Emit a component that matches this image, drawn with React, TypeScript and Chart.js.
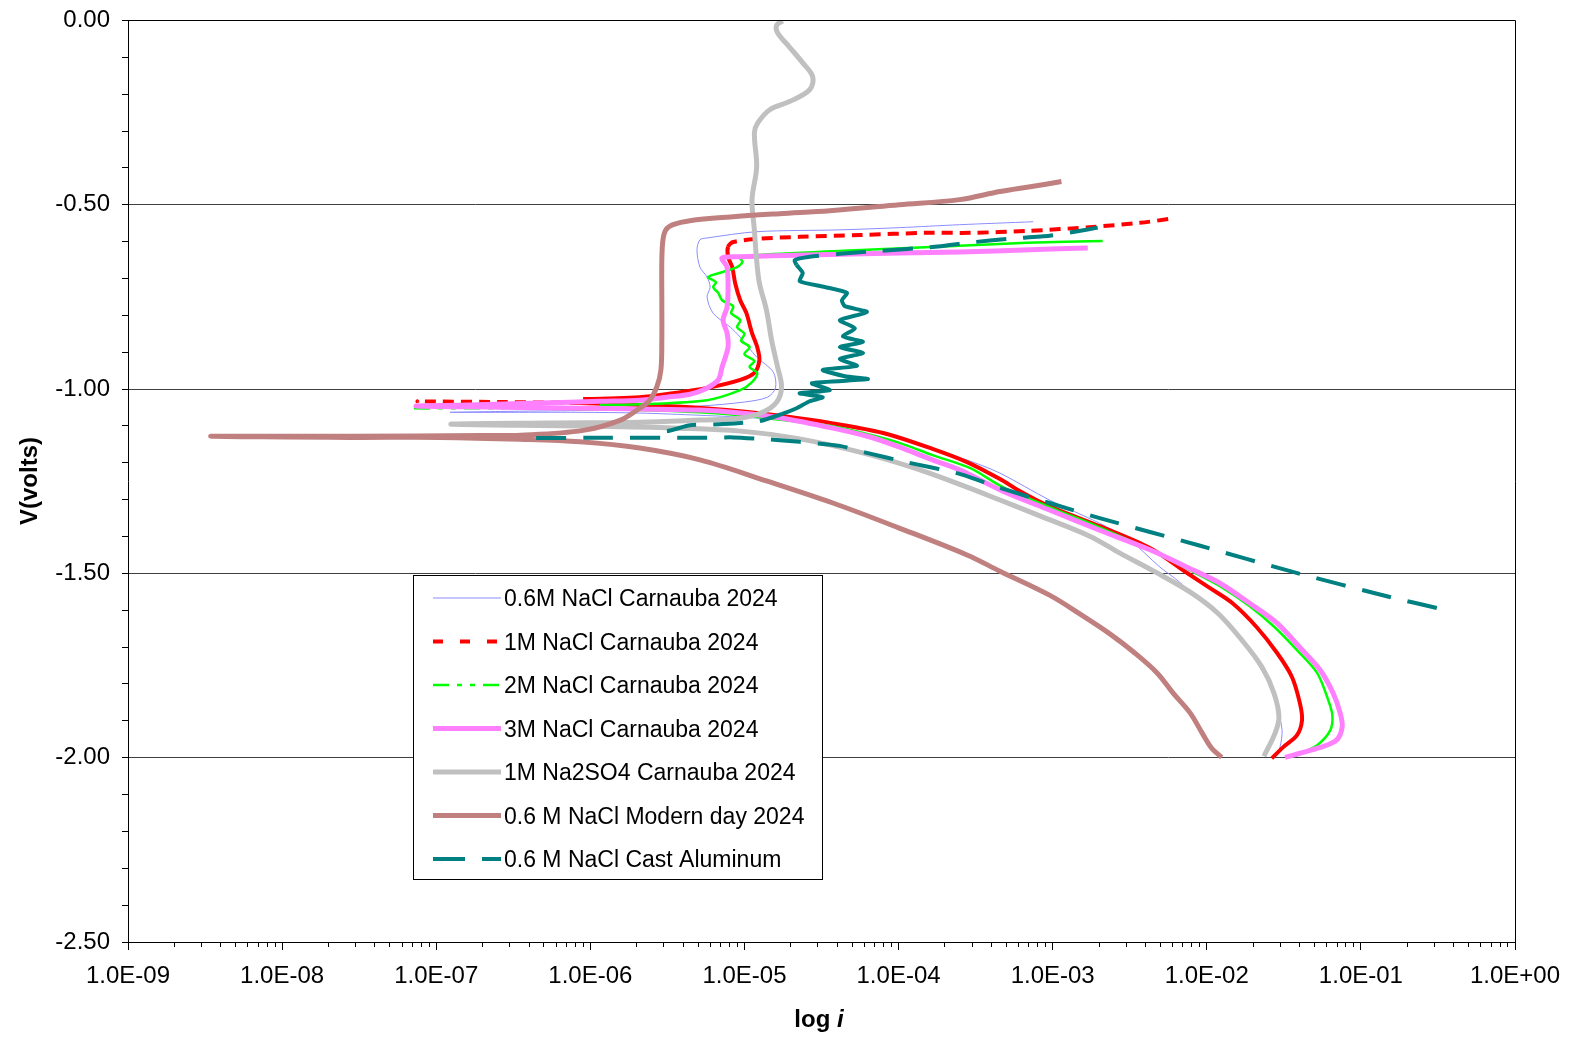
import React, { useEffect, useRef } from 'react';
import { Chart, registerables } from 'chart.js';

Chart.register(...registerables);

const FONT_FAMILY = '"Liberation Sans", Arial, Helvetica, sans-serif';

const seriesLabels = [
  '0.6M NaCl Carnauba 2024',
  '1M NaCl Carnauba 2024',
  '2M NaCl Carnauba 2024',
  '3M NaCl Carnauba 2024',
  '1M Na2SO4 Carnauba 2024',
  '0.6 M NaCl Modern day 2024',
  '0.6 M NaCl Cast Aluminum',
];

// current (A) and potential (V) for each scan: cathodic branch first, then anodic branch
const nacl06I = [
  2.77e-2, 2.98e-2, 3.08e-2, 2.86e-2, 2.46e-2, 1.82e-2, 1.34e-2, 9.07e-3, 6.41e-3, 4.97e-3,
  3.17e-3, 2.02e-3, 9.54e-4, 4.55e-4, 2.9e-4, 1.6e-4, 7.58e-5, 3.58e-5, 1.25e-5, 5.14e-6,
  2.09e-6, 8.57e-7, 2.59e-7, 1.23e-7,
  3.49e-7, 1.15e-6, 5.14e-6, 1.0e-5, 1.41e-5, 1.59e-5, 1.54e-5, 1.2e-5, 9.39e-6, 8.09e-6,
  6.26e-6, 5.72e-6, 5.99e-6, 5.72e-6, 5.14e-6, 4.92e-6, 5.14e-6, 5.72e-6, 1.2e-5, 4.16e-5,
  1.01e-4, 2.49e-4, 7.48e-4,
];
const nacl06V = [
  -1.998, -1.972, -1.926, -1.863, -1.789, -1.701, -1.635, -1.573, -1.518, -1.483,
  -1.41, -1.364, -1.301, -1.228, -1.195, -1.16, -1.119, -1.097, -1.079, -1.071,
  -1.065, -1.063, -1.063, -1.063,
  -1.06, -1.057, -1.046, -1.035, -1.022, -0.997, -0.954, -0.913, -0.859, -0.832,
  -0.794, -0.75, -0.723, -0.696, -0.669, -0.622, -0.595, -0.59, -0.573, -0.568,
  -0.562, -0.554, -0.546,
];

const nacl1I = [
  2.64e-2, 3.12e-2, 3.85e-2, 4.15e-2, 4.02e-2, 3.57e-2, 2.86e-2, 2.11e-2, 1.47e-2, 1.05e-2,
  7.46e-3, 4.28e-3, 2.02e-3, 9.54e-4, 6.14e-4, 4.55e-4, 2.78e-4, 1.66e-4, 7.94e-5, 3.75e-5,
  1.77e-5, 9.39e-6, 4.43e-6, 2.09e-6, 8.57e-7, 2.59e-7, 7.63e-8,
  8.98e-7, 2.09e-6, 3.44e-6, 5.72e-6, 9.39e-6, 1.16e-5, 1.25e-5, 1.21e-5, 1.12e-5, 1.03e-5,
  9.39e-6, 8.7e-6, 8.33e-6, 7.83e-6, 7.83e-6, 8.45e-6, 1.25e-5, 2.28e-5, 5.61e-5, 1.52e-4,
  2.9e-4, 6.82e-4, 1.82e-3, 3.68e-3, 5.79e-3,
];
const nacl1V = [
  -2.002, -1.972, -1.939, -1.898, -1.852, -1.781, -1.716, -1.646, -1.581, -1.54,
  -1.499, -1.431, -1.372, -1.318, -1.277, -1.244, -1.198, -1.162, -1.119, -1.093,
  -1.073, -1.06, -1.049, -1.043, -1.038, -1.035, -1.033,
  -1.027, -1.022, -1.011, -0.997, -0.975, -0.956, -0.921, -0.886, -0.848, -0.794,
  -0.759, -0.712, -0.669, -0.641, -0.614, -0.601, -0.592, -0.587, -0.582, -0.576,
  -0.576, -0.571, -0.56, -0.549, -0.538,
];

const nacl2I = [
  3.74e-2, 5.2e-2, 6.32e-2, 6.53e-2, 6.14e-2, 5.2e-2, 3.85e-2, 2.76e-2, 1.9e-2, 1.21e-2,
  8.15e-3, 4.28e-3, 2.02e-3, 9.54e-4, 4.76e-4, 2.9e-4, 1.66e-4, 1.01e-4, 6.53e-5, 3.75e-5,
  1.77e-5, 9.39e-6, 5.14e-6, 2.09e-6, 8.57e-7, 2.59e-7, 7.2e-8,
  1.15e-6, 2.09e-6, 5.72e-6,
  9.39e-6, 1.12e-5, 1.21e-5, 1.08e-5, 1.16e-5, 1.0e-5, 1.08e-5, 9.52e-6, 1.0e-5, 8.95e-6,
  9.39e-6, 8.2e-6, 8.45e-6, 7.16e-6, 6.76e-6, 6.26e-6, 6.54e-6, 5.81e-6, 7.27e-6, 8.95e-6,
  9.72e-6, 9.39e-6,
  1.25e-5, 6.23e-5, 2.49e-4, 6.82e-4, 2.11e-3,
];
const nacl2V = [
  -1.996, -1.966, -1.926, -1.885, -1.844, -1.77, -1.708, -1.646, -1.589, -1.534,
  -1.496, -1.436, -1.375, -1.32, -1.266, -1.214, -1.179, -1.146, -1.124, -1.101,
  -1.084, -1.071, -1.063, -1.057, -1.054, -1.052, -1.052,
  -1.043, -1.041, -1.03,
  -1.003, -0.981, -0.956, -0.94, -0.924, -0.905, -0.886, -0.869, -0.85, -0.832,
  -0.813, -0.794, -0.775, -0.759, -0.739, -0.723, -0.71, -0.696, -0.682, -0.669,
  -0.655, -0.644,
  -0.636, -0.622, -0.611, -0.603, -0.598,
];

const nacl3I = [
  3.22e-2, 4.02e-2, 5.44e-2, 6.92e-2, 7.56e-2, 7.34e-2, 6.61e-2, 5.44e-2, 4.02e-2, 2.86e-2,
  1.9e-2, 1.21e-2, 8.15e-3, 4.28e-3, 2.02e-3, 9.54e-4, 4.76e-4, 2.49e-4, 1.66e-4, 1.01e-4,
  6.53e-5, 3.75e-5, 1.77e-5, 9.39e-6, 5.14e-6, 2.09e-6, 8.57e-7, 2.59e-7, 7.41e-8,
  1.64e-7, 4.7e-7, 1.15e-6, 2.09e-6, 3.14e-6, 4.43e-6, 5.56e-6, 6.76e-6, 7.16e-6, 7.83e-6,
  7.71e-6, 7.27e-6, 7.71e-6, 7.83e-6, 7.71e-6, 7.16e-6, 9.39e-6, 2.53e-5, 1.01e-4, 2.49e-4,
  7.14e-4, 1.69e-3,
];
const nacl3V = [
  -1.999, -1.988, -1.972, -1.953, -1.917, -1.879, -1.825, -1.762, -1.701, -1.635,
  -1.581, -1.526, -1.491, -1.436, -1.383, -1.328, -1.277, -1.219, -1.192, -1.157,
  -1.13, -1.106, -1.079, -1.065, -1.057, -1.054, -1.052, -1.049, -1.046,
  -1.043, -1.038, -1.033, -1.03, -1.022, -1.014, -1.0, -0.975, -0.94, -0.886,
  -0.848, -0.813, -0.778, -0.723, -0.669, -0.644, -0.641, -0.636, -0.631, -0.628,
  -0.622, -0.617,
];

const na2so4I = [
  2.35e-2, 2.77e-2, 2.94e-2, 2.73e-2, 2.28e-2, 1.69e-2, 1.18e-2, 7.81e-3, 4.62e-3, 2.73e-3,
  1.74e-3, 8.26e-4, 4.55e-4, 2.78e-4, 1.26e-4, 5.61e-5, 2.28e-5, 9.39e-6, 3.81e-6, 1.15e-6,
  3.49e-7, 1.25e-7,
  5.47e-7, 2.09e-6, 5.14e-6, 9.39e-6, 1.31e-5, 1.62e-5, 1.74e-5, 1.64e-5, 1.5e-5, 1.39e-5,
  1.25e-5, 1.2e-5, 1.16e-5, 1.12e-5, 1.2e-5, 1.16e-5, 1.22e-5, 1.46e-5, 1.96e-5, 2.65e-5,
  2.77e-5, 2.39e-5, 1.96e-5, 1.64e-5, 1.62e-5, 1.77e-5,
];
const na2so4V = [
  -1.996, -1.934, -1.89, -1.825, -1.754, -1.681, -1.608, -1.551, -1.496, -1.445,
  -1.399, -1.344, -1.301, -1.266, -1.214, -1.171, -1.135, -1.114, -1.106, -1.101,
  -1.098, -1.095,
  -1.092, -1.09, -1.084, -1.079, -1.063, -1.035, -0.994, -0.94, -0.867, -0.786,
  -0.712, -0.65, -0.568, -0.486, -0.397, -0.305, -0.278, -0.242, -0.22, -0.188,
  -0.152, -0.115, -0.072, -0.033, -0.012, -0.001,
];

const modernI = [
  1.25e-2, 1.08e-2, 9.36e-3, 7.81e-3, 6.05e-3, 4.76e-3, 3.32e-3, 2.35e-3, 1.5e-3, 9.54e-4,
  4.55e-4, 2.78e-4, 1.01e-4, 3.75e-5, 1.39e-5, 5.14e-6, 2.09e-6, 8.57e-7, 3.49e-7, 1.05e-7,
  2.75e-8, 3.44e-9,
  2.75e-8, 1.94e-7, 3.54e-7, 8.98e-7, 1.57e-6, 2.09e-6, 2.43e-6, 2.7e-6, 2.87e-6, 2.91e-6,
  2.91e-6, 2.91e-6, 2.96e-6, 3.09e-6, 3.44e-6, 4.43e-6, 8.09e-6, 1.69e-5, 3.58e-5, 1.01e-4,
  2.49e-4, 4.55e-4, 7.14e-4, 1.14e-3,
];
const modernV = [
  -1.999, -1.975, -1.934, -1.879, -1.825, -1.77, -1.712, -1.664, -1.61, -1.559,
  -1.494, -1.45, -1.377, -1.309, -1.249, -1.192, -1.16, -1.143, -1.136, -1.131,
  -1.131, -1.128,
  -1.128, -1.126, -1.125, -1.112, -1.084, -1.052, -1.03, -0.994, -0.948, -0.867,
  -0.759, -0.65, -0.595, -0.568, -0.554, -0.543, -0.533, -0.524, -0.516, -0.5,
  -0.486, -0.464, -0.451, -0.437,
];

const castI = [
  3.11e-1, 1.54e-1, 3.62e-2, 9.07e-3, 2.02e-3, 9.54e-4, 4.55e-4, 2.49e-4, 1.12e-4, 6.23e-5,
  4.16e-5, 2.28e-5, 1.39e-5, 8.45e-6, 5.14e-6, 1.15e-6, 3.65e-7,
  3.14e-6, 4.43e-6, 7.27e-6, 1.25e-5, 1.74e-5, 2.18e-5, 2.65e-5, 3.22e-5, 2.28e-5, 3.58e-5,
  2.74e-5, 6.32e-5, 4.48e-5, 3.22e-5, 5.37e-5, 4.16e-5, 5.88e-5, 4.16e-5, 5.88e-5, 4.36e-5,
  5.21e-5, 4.16e-5, 6.23e-5, 4.48e-5, 4.29e-5, 4.62e-5, 3.32e-5, 2.28e-5, 2.39e-5, 2.18e-5,
  2.12e-5, 2.65e-5, 4.16e-5, 7.58e-5, 1.72e-4, 3.12e-4, 5.29e-4, 9.54e-4, 1.39e-3, 1.96e-3,
];
const castV = [
  -1.594, -1.564, -1.496, -1.425, -1.35, -1.309, -1.268, -1.23, -1.198, -1.173,
  -1.154, -1.143, -1.136, -1.131, -1.132, -1.132, -1.132,
  -1.114, -1.098, -1.095, -1.087, -1.068, -1.052, -1.033, -1.022, -1.011, -1.003,
  -0.984, -0.973, -0.965, -0.948, -0.937, -0.918, -0.902, -0.886, -0.872, -0.857,
  -0.835, -0.813, -0.791, -0.775, -0.759, -0.739, -0.723, -0.707, -0.685, -0.663,
  -0.65, -0.641, -0.633, -0.625, -0.614, -0.601, -0.592, -0.584, -0.573, -0.562,
];

const xDecadeValues = [1e-9, 1e-8, 1e-7, 1e-6, 1e-5, 1e-4, 1e-3, 1e-2, 1e-1, 1];
const xDecadeLabels = ['1.0E-09', '1.0E-08', '1.0E-07', '1.0E-06', '1.0E-05', '1.0E-04', '1.0E-03', '1.0E-02', '1.0E-01', '1.0E+00'];
const yMajorValues = [0, -0.5, -1, -1.5, -2, -2.5];
const yMajorLabels = ['0.00', '-0.50', '-1.00', '-1.50', '-2.00', '-2.50'];
const yMinorStep = 0.1;

const xTitleText = 'log ';
const xTitleItalic = 'i';
const yTitleText = 'V(volts)';

const seriesI = [nacl06I, nacl1I, nacl2I, nacl3I, na2so4I, modernI, castI];
const seriesV = [nacl06V, nacl1V, nacl2V, nacl3V, na2so4V, modernV, castV];

type SeriesStyle = { color: string; width: number; dash: number[]; legendDash: number[]; tension: number };
const seriesStyles: SeriesStyle[] = [
  { color: 'rgb(140,140,255)', width: 1, dash: [], legendDash: [], tension: 0.3 },
  { color: '#FF0000', width: 4, dash: [], legendDash: [10, 17], tension: 0.3 },
  { color: '#00FF00', width: 2.5, dash: [], legendDash: [16, 8, 5, 8, 5, 8], tension: 0.3 },
  { color: '#FF80FF', width: 5, dash: [], legendDash: [], tension: 0.3 },
  { color: '#C0C0C0', width: 5, dash: [], legendDash: [], tension: 0.35 },
  { color: '#C08080', width: 5, dash: [], legendDash: [], tension: 0.35 },
  { color: '#008080', width: 4, dash: [30, 17], legendDash: [32, 17], tension: 0.2 },
];

const TRANSPARENT = 'rgba(0,0,0,0)';

function argMin(a: number[]): number {
  let m = 0;
  for (let i = 1; i < a.length; i++) if (a[i] < a[m]) m = i;
  return m;
}

function makeSegment(idx: number, I: number[]): any {
  const m = argMin(I);
  const hideReturn = (c: any) => (c.p0DataIndex === m ? TRANSPARENT : undefined);
  if (idx === 1) {
    return {
      borderColor: hideReturn,
      borderDash: (c: any) => {
        const a = c.p0.parsed, b = c.p1.parsed;
        if (a.y > -0.617 && b.y > -0.617) return [11, 7];
        if (c.p1DataIndex <= m && a.x < 1.5e-6 && b.x < 1.5e-6) return [11, 7];
        return undefined;
      },
    };
  }
  if (idx === 2) {
    return {
      borderColor: hideReturn,
      borderDash: (c: any) => {
        const a = c.p0.parsed, b = c.p1.parsed;
        if (c.p1DataIndex <= m && a.x < 1.5e-6 && b.x < 1.5e-6) return [16, 8, 5, 8, 5, 8];
        return undefined;
      },
    };
  }
  if (idx === 6) {
    return {
      borderColor: hideReturn,
      borderDash: (c: any) => {
        const a = c.p0.parsed, b = c.p1.parsed;
        if (a.y > -1.07 && b.y > -1.07 && a.y < -0.655 && b.y < -0.655) return [];
        return undefined;
      },
    };
  }
  return undefined;
}

function alignPx(p: number): number {
  return Math.round(p - 0.5) + 0.5;
}

const overlayPlugin = {
  id: 'overlay',
  afterDraw(chart: any) {
    const ctx: CanvasRenderingContext2D = chart.ctx;
    const a = chart.chartArea;
    const xs = chart.scales.x;
    ctx.save();
    ctx.strokeStyle = '#000';
    ctx.lineWidth = 1;
    ctx.setLineDash([]);
    const ty = alignPx(a.top);
    const rx = alignPx(a.right);
    ctx.beginPath();
    ctx.moveTo(a.left, ty);
    ctx.lineTo(rx, ty);
    ctx.lineTo(rx, a.bottom);
    ctx.stroke();
    ctx.beginPath();
    for (const d of xDecadeValues) {
      const px = alignPx(xs.getPixelForValue(d));
      ctx.moveTo(px, a.bottom);
      ctx.lineTo(px, a.bottom + 8);
    }
    ctx.stroke();

    // legend
    const lx = 413.5, ly = 575.5, lw = 409, lh = 304;
    ctx.fillStyle = '#fff';
    ctx.fillRect(lx, ly, lw, lh);
    ctx.strokeStyle = '#000';
    ctx.lineWidth = 1;
    ctx.strokeRect(lx, ly, lw, lh);
    const rowH = 43.5;
    const fontSize = 23;
    ctx.font = `${fontSize}px ${FONT_FAMILY}`;
    chart.data.datasets.forEach((ds: any, i: number) => {
      const st = seriesStyles[i];
      const cy = 598 + i * rowH;
      ctx.save();
      ctx.strokeStyle = st.color;
      ctx.lineWidth = st.width;
      ctx.setLineDash(st.legendDash);
      ctx.lineCap = 'butt';
      ctx.beginPath();
      ctx.moveTo(433, cy);
      ctx.lineTo(501, cy);
      ctx.stroke();
      ctx.restore();
      ctx.fillStyle = '#000';
      ctx.textAlign = 'left';
      ctx.textBaseline = 'alphabetic';
      ctx.fillText(ds.label, 504, cy + 0.358 * fontSize);
    });

    // axis titles
    ctx.fillStyle = '#000';
    ctx.font = `bold 24px ${FONT_FAMILY}`;
    ctx.save();
    ctx.translate(30, 481);
    ctx.rotate(-Math.PI / 2);
    ctx.textAlign = 'center';
    ctx.textBaseline = 'middle';
    ctx.fillText(yTitleText, 0, 0);
    ctx.restore();

    const w1 = ctx.measureText(xTitleText).width;
    ctx.font = `italic bold 24px ${FONT_FAMILY}`;
    const w2 = ctx.measureText(xTitleItalic).width;
    const startX = 819 - (w1 + w2) / 2;
    const baseY = 1027;
    ctx.textAlign = 'left';
    ctx.textBaseline = 'alphabetic';
    ctx.font = `bold 24px ${FONT_FAMILY}`;
    ctx.fillText(xTitleText, startX, baseY);
    ctx.font = `italic bold 24px ${FONT_FAMILY}`;
    ctx.fillText(xTitleItalic, startX + w1, baseY);
    ctx.restore();
  },
};

const isYMajor = (v: number) => yMajorValues.some((m) => Math.abs(m - v) < 1e-6);

export default function App() {
  const canvasRef = useRef<HTMLCanvasElement | null>(null);

  useEffect(() => {
    if (!canvasRef.current) return;
    const datasets = seriesLabels.map((label, i) => ({
      label,
      data: seriesI[i].map((x, k) => ({ x, y: seriesV[i][k] })),
      showLine: true,
      borderColor: seriesStyles[i].color,
      backgroundColor: seriesStyles[i].color,
      borderWidth: seriesStyles[i].width,
      borderDash: seriesStyles[i].dash,
      borderJoinStyle: 'round' as const,
      borderCapStyle: 'butt' as const,
      pointRadius: 0,
      pointHoverRadius: 0,
      pointHitRadius: 0,
      tension: seriesStyles[i].tension,
      fill: false,
      order: seriesLabels.length - 1 - i,
      segment: makeSegment(i, seriesI[i]),
    }));

    const chart = new Chart(canvasRef.current, {
      type: 'scatter',
      data: { datasets },
      options: {
        animation: false,
        responsive: false,
        events: [],
        layout: { padding: { top: 20.5, right: 59, left: 0, bottom: 0 } },
        plugins: {
          legend: { display: false },
          tooltip: { enabled: false },
          title: { display: false },
        },
        scales: {
          x: {
            type: 'logarithmic',
            position: 'bottom',
            min: 1e-9,
            max: 1,
            afterBuildTicks: (scale: any) => {
              const t: any[] = [];
              xDecadeValues.forEach((d, k) => {
                t.push({ value: d, major: true });
                if (k < xDecadeValues.length - 1) {
                  for (let mult = 2; mult <= 9; mult++) t.push({ value: d * mult, major: false });
                }
              });
              scale.ticks = t;
            },
            afterFit: (scale: any) => {
              scale.height = 95;
              scale.paddingLeft = 0;
              scale.paddingRight = 0;
            },
            ticks: {
              autoSkip: false,
              maxRotation: 0,
              minRotation: 0,
              padding: 15,
              color: '#000',
              font: { family: FONT_FAMILY, size: 24 },
              callback: (value: any) => {
                const k = xDecadeValues.findIndex((d) => Math.abs(Number(value) / d - 1) < 1e-6);
                return k >= 0 ? xDecadeLabels[k] : '';
              },
            },
            grid: {
              drawOnChartArea: false,
              drawTicks: true,
              tickLength: 5,
              tickColor: '#000',
              color: '#000',
            },
            border: { color: '#000', width: 1 },
          },
          y: {
            type: 'linear',
            min: -2.5,
            max: 0,
            afterBuildTicks: (scale: any) => {
              const t: any[] = [];
              const n = Math.round(2.5 / yMinorStep);
              for (let k = 0; k <= n; k++) {
                const v = Math.round((-2.5 + k * yMinorStep) * 10) / 10;
                t.push({ value: v, major: isYMajor(v) });
              }
              scale.ticks = t;
            },
            afterFit: (scale: any) => {
              scale.width = 128;
              scale.paddingTop = 0;
              scale.paddingBottom = 0;
            },
            ticks: {
              autoSkip: false,
              padding: 12,
              color: '#000',
              font: { family: FONT_FAMILY, size: 24 },
              callback: (value: any) => {
                const k = yMajorValues.findIndex((m) => Math.abs(m - Number(value)) < 1e-6);
                return k >= 0 ? yMajorLabels[k] : '';
              },
            },
            grid: {
              drawOnChartArea: true,
              drawTicks: true,
              tickLength: 6,
              tickColor: '#000',
              lineWidth: 1,
              color: (c: any) => {
                const v = c.tick ? c.tick.value : NaN;
                if (!isYMajor(v) || Math.abs(v + 2.5) < 1e-6) return TRANSPARENT;
                if (Math.abs(v) < 1e-6) return '#000';
                return '#404040';
              },
            },
            border: { color: '#000', width: 1 },
          },
        },
      } as any,
      plugins: [overlayPlugin],
    });

    return () => {
      chart.destroy();
    };
  }, []);

  return (
    <div style={{ position: 'fixed', left: 0, top: 0, width: 1574, height: 1037, background: '#fff' }}>
      <canvas ref={canvasRef} width={1574} height={1037} style={{ display: 'block', width: 1574, height: 1037 }} />
    </div>
  );
}
